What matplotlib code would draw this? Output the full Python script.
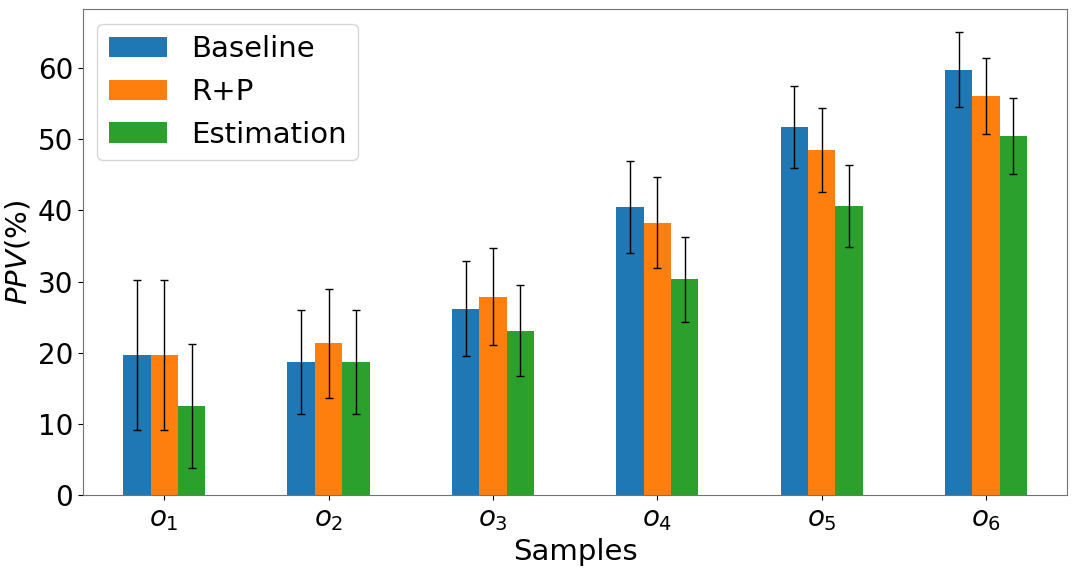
import numpy as np
import matplotlib
matplotlib.use('Agg')
from matplotlib import pyplot as plt

samples = ['$o_1$', '$o_2$', '$o_3$', '$o_4$', '$o_5$', '$o_6$']
methods = ['Baseline', 'R+P', 'Estimation']

baseline = [19.7, 18.7, 26.2, 40.5, 51.7, 59.8]
baseline_err = [10.5, 7.3, 6.65, 6.5, 5.8, 5.25]
rp = [19.7, 21.3, 27.9, 38.3, 48.5, 56.1]
rp_err = [10.5, 7.6, 6.8, 6.45, 5.9, 5.35]
estimation = [12.5, 18.7, 23.1, 30.3, 40.6, 50.5]
estimation_err = [8.7, 7.3, 6.4, 6.0, 5.75, 5.35]

fig = plt.figure(figsize=(10.76, 5.69), dpi=100)
ax = fig.add_axes([0.077, 0.130, 0.915, 0.854])

x = np.arange(len(samples))
w = 0.5 / 3
series = [(baseline, baseline_err), (rp, rp_err), (estimation, estimation_err)]
for i, (vals, errs) in enumerate(series):
    ax.bar(x + (i - 1) * w, vals, w, yerr=errs, label=methods[i],
           error_kw=dict(ecolor='black', capsize=3, elinewidth=1, capthick=1))

ax.set_xlim(-0.495, 5.495)
ax.set_xticks(x)
ax.set_xticklabels(samples, fontsize=20)
ax.tick_params(axis='y', labelsize=20)
ax.set_xlabel('Samples', fontsize=21)
ax.set_ylabel('$PPV$(%)', fontsize=21)
for s in ax.spines.values():
    s.set_color('0.45')
ax.legend(fontsize=21, loc='upper left')

plt.savefig('out.png', dpi=100)
